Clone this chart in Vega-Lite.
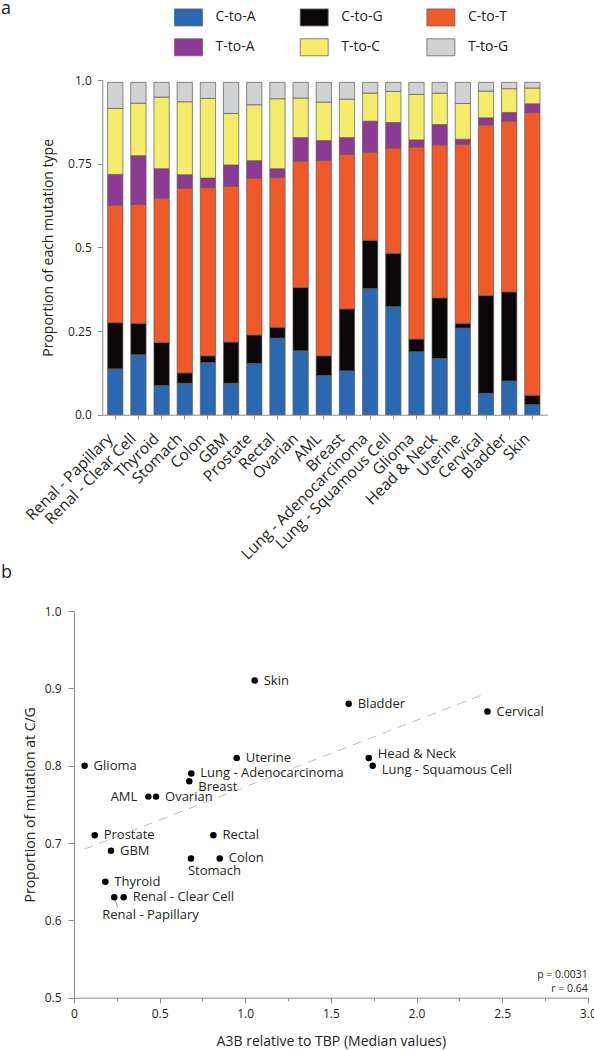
{
  "$schema": "https://vega.github.io/schema/vega-lite/v6.json",
  "autosize": {"type": "pad"},
  "padding": {"left": 1, "top": 0, "right": 0, "bottom": 0},
  "spacing": 1,
  "config": {
    "font": "Open Sans",
    "view": {"stroke": null},
    "axis": {"labelColor": "#231f20", "titleColor": "#231f20", "domainColor": "#8a8a8a", "tickColor": "#8a8a8a", "grid": false, "titleFontWeight": "normal", "labelFont": "Open Sans", "titleFont": "Open Sans"},
    "legend": {"labelColor": "#231f20", "labelFont": "Open Sans", "labelFontSize": 14},
    "title": {"color": "#231f20", "fontWeight": "normal", "font": "Open Sans"}
  },
  "vconcat": [
    {
      "width": 473.3,
      "height": 334.7,
      "title": {"text": "a", "anchor": "start", "frame": "group", "dx": -73, "fontSize": 18, "baseline": "alphabetic", "offset": 42},
      "data": {"values": [
        {"cancer": "Renal - Papillary", "C-to-A": 0.137, "C-to-G": 0.138, "C-to-T": 0.351, "T-to-A": 0.092, "T-to-C": 0.197, "T-to-G": 0.078},
        {"cancer": "Renal - Clear Cell", "C-to-A": 0.179, "C-to-G": 0.094, "C-to-T": 0.355, "T-to-A": 0.146, "T-to-C": 0.157, "T-to-G": 0.062},
        {"cancer": "Thyroid", "C-to-A": 0.087, "C-to-G": 0.129, "C-to-T": 0.431, "T-to-A": 0.088, "T-to-C": 0.214, "T-to-G": 0.044},
        {"cancer": "Stomach", "C-to-A": 0.094, "C-to-G": 0.031, "C-to-T": 0.552, "T-to-A": 0.040, "T-to-C": 0.218, "T-to-G": 0.058},
        {"cancer": "Colon", "C-to-A": 0.156, "C-to-G": 0.020, "C-to-T": 0.503, "T-to-A": 0.028, "T-to-C": 0.238, "T-to-G": 0.048},
        {"cancer": "GBM", "C-to-A": 0.094, "C-to-G": 0.123, "C-to-T": 0.466, "T-to-A": 0.063, "T-to-C": 0.154, "T-to-G": 0.093},
        {"cancer": "Prostate", "C-to-A": 0.153, "C-to-G": 0.085, "C-to-T": 0.469, "T-to-A": 0.052, "T-to-C": 0.167, "T-to-G": 0.067},
        {"cancer": "Rectal", "C-to-A": 0.229, "C-to-G": 0.032, "C-to-T": 0.448, "T-to-A": 0.026, "T-to-C": 0.209, "T-to-G": 0.049},
        {"cancer": "Ovarian", "C-to-A": 0.191, "C-to-G": 0.189, "C-to-T": 0.378, "T-to-A": 0.070, "T-to-C": 0.118, "T-to-G": 0.047},
        {"cancer": "AML", "C-to-A": 0.117, "C-to-G": 0.059, "C-to-T": 0.584, "T-to-A": 0.059, "T-to-C": 0.115, "T-to-G": 0.059},
        {"cancer": "Breast", "C-to-A": 0.131, "C-to-G": 0.185, "C-to-T": 0.462, "T-to-A": 0.050, "T-to-C": 0.115, "T-to-G": 0.050},
        {"cancer": "Lung - Adenocarcinoma", "C-to-A": 0.377, "C-to-G": 0.144, "C-to-T": 0.264, "T-to-A": 0.092, "T-to-C": 0.084, "T-to-G": 0.032},
        {"cancer": "Lung - Squamous Cell", "C-to-A": 0.323, "C-to-G": 0.159, "C-to-T": 0.315, "T-to-A": 0.076, "T-to-C": 0.093, "T-to-G": 0.027},
        {"cancer": "Glioma", "C-to-A": 0.188, "C-to-G": 0.038, "C-to-T": 0.574, "T-to-A": 0.021, "T-to-C": 0.136, "T-to-G": 0.036},
        {"cancer": "Head & Neck", "C-to-A": 0.168, "C-to-G": 0.181, "C-to-T": 0.457, "T-to-A": 0.061, "T-to-C": 0.094, "T-to-G": 0.032},
        {"cancer": "Uterine", "C-to-A": 0.259, "C-to-G": 0.014, "C-to-T": 0.535, "T-to-A": 0.015, "T-to-C": 0.107, "T-to-G": 0.063},
        {"cancer": "Cervical", "C-to-A": 0.064, "C-to-G": 0.292, "C-to-T": 0.510, "T-to-A": 0.021, "T-to-C": 0.080, "T-to-G": 0.026},
        {"cancer": "Bladder", "C-to-A": 0.101, "C-to-G": 0.266, "C-to-T": 0.510, "T-to-A": 0.026, "T-to-C": 0.071, "T-to-G": 0.019},
        {"cancer": "Skin", "C-to-A": 0.030, "C-to-G": 0.028, "C-to-T": 0.845, "T-to-A": 0.026, "T-to-C": 0.047, "T-to-G": 0.017}
      ]},
      "transform": [{"fold": ["C-to-A", "C-to-G", "C-to-T", "T-to-A", "T-to-C", "T-to-G"], "as": ["type", "value"]}],
      "mark": {"type": "bar", "stroke": "#5a5a5a", "strokeWidth": 0.7},
      "encoding": {
        "x": {
          "field": "cancer", "type": "nominal", "sort": null,
          "scale": {"paddingInner": 0.34, "paddingOuter": 0.8826, "align": 0.8215},
          "axis": {"title": null, "labelAngle": -45, "labelFontSize": 15.5, "tickSize": 4, "labelPadding": 12, "labelOffset": -10, "domainDash": [0, 28.3, 1000, 0]}
        },
        "y": {
          "field": "value", "type": "quantitative", "stack": "zero",
          "scale": {"domain": [0, 1]},
          "axis": {"values": [0, 0.25, 0.5, 0.75, 1], "labelExpr": "datum.value == 0 ? '0.0' : datum.value == 1 ? '1.0' : '' + datum.value", "offset": -28.3, "title": "Proportion of each mutation type", "titleFontSize": 14, "titlePadding": 12, "labelFontSize": 12, "tickSize": 5, "labelPadding": 6}
        },
        "order": {"field": "type", "sort": "ascending"},
        "color": {
          "field": "type", "type": "nominal",
          "scale": {"domain": ["C-to-A", "C-to-G", "C-to-T", "T-to-A", "T-to-C", "T-to-G"], "range": ["#2a69b2", "#0b0709", "#f05a28", "#8d3a95", "#f5ec6b", "#d1d2d4"]},
          "legend": {"title": null, "orient": "none", "legendX": 105.5, "legendY": -72, "columns": 3, "direction": "horizontal", "padding": 0, "symbolType": "M-1.647,-1L1.647,-1L1.647,1L-1.647,1Z", "symbolSize": 289, "symbolStrokeColor": "#666", "symbolStrokeWidth": 0.8, "symbolOpacity": 1, "labelFontSize": 14, "labelOffset": 18, "columnPadding": 41.7, "rowPadding": 8.3}
        }
      }
    },
    {
      "width": 513.8,
      "height": 386.7,
      "title": {"text": "b", "anchor": "start", "frame": "group", "dx": -73, "fontSize": 18, "baseline": "alphabetic", "offset": 9},
      "data": {"values": [
        {"cancer": "Renal - Papillary", "a3b": 0.235, "cg": 0.63},
        {"cancer": "Renal - Clear Cell", "a3b": 0.29, "cg": 0.63},
        {"cancer": "Thyroid", "a3b": 0.183, "cg": 0.65},
        {"cancer": "Stomach", "a3b": 0.683, "cg": 0.68},
        {"cancer": "Colon", "a3b": 0.851, "cg": 0.68},
        {"cancer": "GBM", "a3b": 0.216, "cg": 0.69},
        {"cancer": "Prostate", "a3b": 0.121, "cg": 0.71},
        {"cancer": "Rectal", "a3b": 0.814, "cg": 0.71},
        {"cancer": "Ovarian", "a3b": 0.479, "cg": 0.76},
        {"cancer": "AML", "a3b": 0.434, "cg": 0.76},
        {"cancer": "Breast", "a3b": 0.673, "cg": 0.78},
        {"cancer": "Lung - Adenocarcinoma", "a3b": 0.685, "cg": 0.79},
        {"cancer": "Lung - Squamous Cell", "a3b": 1.744, "cg": 0.80},
        {"cancer": "Glioma", "a3b": 0.062, "cg": 0.80},
        {"cancer": "Head & Neck", "a3b": 1.721, "cg": 0.81},
        {"cancer": "Uterine", "a3b": 0.95, "cg": 0.81},
        {"cancer": "Cervical", "a3b": 2.414, "cg": 0.87},
        {"cancer": "Bladder", "a3b": 1.604, "cg": 0.88},
        {"cancer": "Skin", "a3b": 1.055, "cg": 0.91}
      ]},
      "encoding": {
        "x": {"field": "a3b", "type": "quantitative", "scale": {"domain": [0, 3]},
          "axis": {"title": "A3B relative to TBP (Median values)", "titleFontSize": 14, "titlePadding": 15, "values": [0, 0.25, 0.5, 0.75, 1, 1.25, 1.5, 1.75, 2, 2.25, 2.5, 2.75, 3], "labelExpr": "datum.value == 0 ? '0' : (datum.value * 2) % 1 == 0 ? format(datum.value, '.1f') : ''", "tickSize": {"condition": {"test": "(datum.value * 2) % 1 == 0", "value": 5}, "value": 3}, "labelFontSize": 12, "labelPadding": 6, "labelFlush": false}},
        "y": {"field": "cg", "type": "quantitative", "scale": {"domain": [0.5, 1.0]},
          "axis": {"title": "Proportion of mutation at C/G", "titleFontSize": 14, "titlePadding": 7, "values": [0.5, 0.6, 0.7, 0.8, 0.9, 1.0], "format": ".1f", "tickSize": 6, "labelFontSize": 12, "labelPadding": 7}}
      },
      "layer": [
        {
          "data": {"values": [{"a3b": 0.06, "cg": 0.692}, {"a3b": 2.4, "cg": 0.893}]},
          "mark": {"type": "line", "color": "#bdbdbd", "strokeWidth": 1, "strokeDash": [9, 7]}
        },
        {
          "data": {"values": [{"a3b": 0.235, "cg": 0.63, "a3b2": 0.255, "cg2": 0.617}]},
          "mark": {"type": "rule", "color": "#555", "strokeWidth": 0.6},
          "encoding": {"x2": {"field": "a3b2"}, "y2": {"field": "cg2"}}
        },
        {
          "mark": {"type": "circle", "size": 42, "color": "#000", "opacity": 1}
        },
        {
          "transform": [{"filter": {"not": {"field": "cancer", "oneOf": ["AML", "Breast", "Stomach", "Renal - Papillary", "Head & Neck", "Lung - Squamous Cell"]}}}],
          "mark": {"type": "text", "align": "left", "dx": 9, "fontSize": 13, "color": "#231f20"},
          "encoding": {"text": {"field": "cancer"}}
        },
        {
          "transform": [{"filter": {"field": "cancer", "oneOf": ["AML"]}}],
          "mark": {"type": "text", "align": "right", "dx": -11, "fontSize": 13, "color": "#231f20"},
          "encoding": {"text": {"field": "cancer"}}
        },
        {
          "transform": [{"filter": {"field": "cancer", "oneOf": ["Breast"]}}],
          "mark": {"type": "text", "align": "left", "dx": 9, "dy": 6, "fontSize": 13, "color": "#231f20"},
          "encoding": {"text": {"field": "cancer"}}
        },
        {
          "transform": [{"filter": {"field": "cancer", "oneOf": ["Lung - Squamous Cell"]}}],
          "mark": {"type": "text", "align": "left", "dx": 9, "dy": 4, "fontSize": 13, "color": "#231f20"},
          "encoding": {"text": {"field": "cancer"}}
        },
        {
          "transform": [{"filter": {"field": "cancer", "oneOf": ["Head & Neck"]}}],
          "mark": {"type": "text", "align": "left", "dx": 9, "dy": -4, "fontSize": 13, "color": "#231f20"},
          "encoding": {"text": {"field": "cancer"}}
        },
        {
          "transform": [{"filter": {"field": "cancer", "oneOf": ["Stomach"]}}],
          "mark": {"type": "text", "align": "left", "dx": -3, "dy": 13, "fontSize": 13, "color": "#231f20"},
          "encoding": {"text": {"field": "cancer"}}
        },
        {
          "transform": [{"filter": {"field": "cancer", "oneOf": ["Renal - Papillary"]}}],
          "mark": {"type": "text", "align": "left", "dx": -12, "dy": 18, "fontSize": 13, "color": "#231f20"},
          "encoding": {"text": {"field": "cancer"}}
        },
        {
          "data": {"values": [{"stat": "p = 0.0031", "a3b": 3.0, "cg": 0.529}, {"stat": "r = 0.64", "a3b": 3.0, "cg": 0.511}]},
          "mark": {"type": "text", "align": "right", "fontSize": 10.5, "color": "#231f20"},
          "encoding": {"text": {"field": "stat"}}
        }
      ]
    }
  ]
}
